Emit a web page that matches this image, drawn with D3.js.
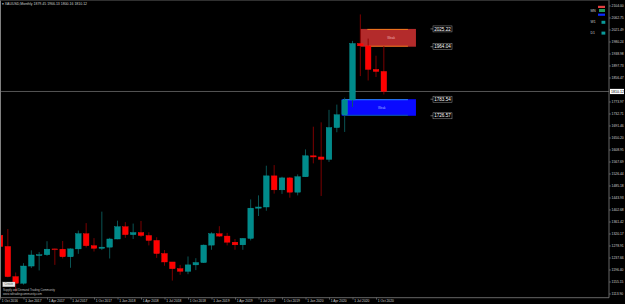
<!DOCTYPE html>
<html>
<head>
<meta charset="utf-8">
<script src="https://cdn.jsdelivr.net/npm/d3@7"></script>
<style>
  html, body { margin: 0; padding: 0; background: #000; }
  svg { display: block; }
  text { font-family: "Liberation Sans", "DejaVu Sans", sans-serif; }
</style>
</head>
<body>
<div id="chart"></div>
<script>
// XAUUSD monthly, Oct 2016 .. Nov 2020
const opens = [1315.6, 1277.3, 1173.6, 1151.0, 1210.0, 1248.0, 1249.0, 1268.9, 1268.0, 1242.0,
  1269.0, 1321.0, 1280.0, 1271.0, 1275.0, 1303.0, 1345.0, 1318.0, 1325.0, 1315.0,
  1298.0, 1253.0, 1224.0, 1201.0, 1192.0, 1214.0, 1222.0, 1282.0, 1321.0, 1313.0,
  1292.0, 1283.0, 1305.0, 1409.0, 1413.0, 1520.0, 1472.0, 1513.0, 1464.0, 1517.0,
  1589.0, 1585.0, 1577.0, 1686.0, 1730.0, 1781.0, 1975.0, 1967.0, 1886.0, 1879.0];
const highs = [1317.9, 1337.4, 1187.8, 1220.0, 1264.0, 1258.0, 1295.4, 1270.0, 1296.0, 1270.7,
  1331.9, 1357.6, 1306.0, 1397.0, 1307.0, 1366.0, 1361.0, 1356.0, 1365.0, 1326.0,
  1309.0, 1265.0, 1224.0, 1214.0, 1243.0, 1237.0, 1284.0, 1326.0, 1347.0, 1324.0,
  1303.0, 1306.0, 1439.0, 1453.0, 1555.0, 1557.0, 1517.0, 1516.0, 1525.0, 1611.0,
  1689.0, 1704.0, 1747.0, 1765.0, 1789.0, 1984.0, 2075.0, 1992.0, 1933.0, 1966.0];
const lows = [1241.5, 1171.3, 1122.9, 1146.0, 1203.0, 1195.0, 1245.0, 1214.0, 1236.0, 1204.0,
  1252.0, 1274.0, 1260.0, 1265.0, 1236.0, 1302.0, 1307.0, 1303.0, 1310.0, 1281.0,
  1238.0, 1211.0, 1160.0, 1180.0, 1182.0, 1196.0, 1221.0, 1266.0, 1310.0, 1281.0,
  1266.0, 1266.0, 1298.0, 1382.0, 1400.0, 1459.0, 1458.0, 1445.0, 1453.0, 1517.0,
  1563.0, 1451.0, 1568.0, 1670.0, 1671.0, 1757.0, 1863.0, 1848.0, 1860.0, 1800.0];
const closes = [1277.3, 1173.6, 1151.0, 1210.0, 1248.0, 1249.0, 1268.0, 1268.3, 1242.0, 1269.0,
  1321.0, 1280.0, 1271.0, 1275.0, 1303.0, 1345.0, 1318.0, 1325.0, 1315.0, 1298.0,
  1253.0, 1224.0, 1201.0, 1192.0, 1214.0, 1222.0, 1282.0, 1321.0, 1313.0, 1292.0,
  1283.0, 1305.0, 1409.0, 1413.0, 1520.0, 1472.0, 1513.0, 1464.0, 1517.0, 1589.0,
  1585.0, 1577.0, 1686.0, 1730.0, 1781.0, 1975.0, 1967.0, 1886.0, 1879.0, 1810.12];

const timeLabels = ["1 Oct 2016", "1 Jan 2017", "1 Apr 2017", "1 Jul 2017", "1 Oct 2017",
  "1 Jan 2018", "1 Apr 2018", "1 Jul 2018", "1 Oct 2018", "1 Jan 2019", "1 Apr 2019",
  "1 Jul 2019", "1 Oct 2019", "1 Jan 2020", "1 Apr 2020", "1 Jul 2020", "1 Oct 2020"];
const timeLabelBars = [0, 3, 6, 9, 12, 15, 18, 21, 24, 27, 30, 33, 36, 39, 42, 45, 48];

const priceTicks = [2104.00, 2062.75, 2021.49, 1980.24, 1938.98, 1897.73, 1856.47,
  1773.97, 1732.71, 1691.46, 1650.20, 1608.95, 1567.69, 1526.44, 1485.18, 1443.93,
  1402.68, 1361.42, 1320.17, 1278.91, 1237.66, 1196.40, 1155.15, 1113.90];

// supply / demand zones: [startBar, endBar, top, bottom]
const zoneNames = ["supply", "demand"];
const zoneStart = [46, 43.62];
const zoneEnd = [53.1, 53.1];
const zoneTop = [2025.22, 1783.54];
const zoneBottom = [1964.04, 1726.57];
const zoneText = ["Weak", "Weak"];

const bidPrice = 1810.12;
const title = "XAUUSD,Monthly  1879.45 1966.13 1800.16 1810.12";

const legendRows = ["MN", "W1", "D1"];

const W = 625, H = 304;
const plotRight = 609, plotBottom = 297.7;

const svg = d3.select("#chart").append("svg")
  .attr("width", W).attr("height", H);

svg.append("rect").attr("width", W).attr("height", H).attr("fill", "#000");

const x = d3.scaleLinear().domain([0, 48]).range([0, 376]);
const y = d3.scaleLinear().domain([1113.9, 2104.0]).range([294, 6]);

const plot = svg.append("g");
plot.append("clipPath").attr("id", "clip")
  .append("rect").attr("x", 0).attr("y", 0).attr("width", plotRight).attr("height", plotBottom);
const g = plot.append("g").attr("clip-path", "url(#clip)");

// zones (behind candles)
const zoneFill = ["#b32b2b", "#0a0aff"];
const zoneEdge = ["#ff8c1a", "#33aaff"];
const zoneTextCol = ["#f2b8b8", "#9fb8ff"];
zoneNames.forEach((name, i) => {
  const x0 = x(zoneStart[i]), x1 = x(zoneEnd[i]);
  const y0 = y(zoneTop[i]), y1 = y(zoneBottom[i]);
  g.append("rect")
    .attr("x", x0).attr("y", y0)
    .attr("width", x1 - x0).attr("height", y1 - y0)
    .attr("fill", zoneFill[i]);
  [y0, y1].forEach((yy, k) => {
    g.append("line")
      .attr("x1", x0 + (i === 0 ? 7 : 1.5)).attr("x2", x1 - 8)
      .attr("y1", yy + (k === 0 ? 0.5 : -0.5)).attr("y2", yy + (k === 0 ? 0.5 : -0.5))
      .attr("stroke", k === 0 ? zoneEdge[i] : (i === 0 ? zoneEdge[i] : "#0b6f8f"))
      .attr("stroke-width", 0.8);
  });
  g.append("text")
    .attr("x", (x0 + x1) / 2 + 3).attr("y", (y0 + y1) / 2 + 1)
    .attr("text-anchor", "middle")
    .attr("font-size", 3)
    .attr("fill", zoneTextCol[i])
    .text(zoneText[i]);
});

// bid line
g.append("line")
  .attr("x1", 0).attr("x2", plotRight)
  .attr("y1", y(bidPrice)).attr("y2", y(bidPrice))
  .attr("stroke", "#7a7a7a").attr("stroke-width", 0.7);

// candles
const bars = d3.range(opens.length);
const bodyW = 5.6;
const candle = g.selectAll(".candle").data(bars).enter().append("g");

candle.append("line")
  .attr("x1", i => x(i)).attr("x2", i => x(i))
  .attr("y1", i => y(highs[i])).attr("y2", i => y(lows[i]))
  .attr("stroke", i => closes[i] >= opens[i] ? "#0b5e5e" : "#8a0000")
  .attr("stroke-width", 0.9);

candle.append("rect")
  .attr("x", i => x(i) - bodyW / 2)
  .attr("y", i => y(Math.max(opens[i], closes[i])))
  .attr("width", bodyW)
  .attr("height", i => Math.max(0.9, Math.abs(y(opens[i]) - y(closes[i]))))
  .attr("fill", i => {
    if (Math.abs(opens[i] - closes[i]) < 2) return closes[i] >= opens[i] ? "#0b6e6e" : "#8a0000";
    return closes[i] >= opens[i] ? "#008b8b" : "#ff0000";
  })
  .attr("stroke", i => closes[i] >= opens[i] ? "#0aa0a0" : "#ff1010")
  .attr("stroke-width", 0.4);

// zone price labels
zoneNames.forEach((name, i) => {
  [zoneTop[i], zoneBottom[i]].forEach(p => {
    const yy = y(p);
    svg.append("line").attr("x1", 430.5).attr("x2", 433)
      .attr("y1", yy).attr("y2", yy).attr("stroke", "#aaa").attr("stroke-width", 0.6);
    svg.append("rect").attr("x", 433).attr("y", yy - 3)
      .attr("width", 19).attr("height", 6)
      .attr("fill", "#000").attr("stroke", "#999").attr("stroke-width", 0.5);
    svg.append("text").attr("x", 442.5).attr("y", yy + 1.6)
      .attr("text-anchor", "middle").attr("font-size", 4.6)
      .attr("fill", "#fff").text(p.toFixed(2));
  });
});

// frame
svg.append("line").attr("x1", 0.5).attr("x2", 0.5).attr("y1", 0).attr("y2", plotBottom)
  .attr("stroke", "#808080").attr("stroke-width", 1);
svg.append("line").attr("x1", plotRight).attr("x2", plotRight).attr("y1", 0).attr("y2", plotBottom)
  .attr("stroke", "#808080").attr("stroke-width", 0.8);
svg.append("line").attr("x1", 0).attr("x2", plotRight).attr("y1", plotBottom).attr("y2", plotBottom)
  .attr("stroke", "#808080").attr("stroke-width", 0.8);
svg.append("line").attr("x1", 0).attr("x2", plotRight).attr("y1", 0.4).attr("y2", 0.4)
  .attr("stroke", "#444").attr("stroke-width", 0.8);

// price axis
const pa = svg.append("g");
priceTicks.forEach(p => {
  const yy = y(p);
  pa.append("line").attr("x1", plotRight).attr("x2", plotRight + 2)
    .attr("y1", yy).attr("y2", yy).attr("stroke", "#999").attr("stroke-width", 0.5);
  pa.append("text").attr("x", plotRight + 2.5).attr("y", yy + 1.2)
    .attr("font-size", 3.4).attr("fill", "#d0d0d0").text(p.toFixed(2));
});
pa.append("rect").attr("x", plotRight + 1).attr("y", y(bidPrice) - 2.6)
  .attr("width", 14).attr("height", 5.2).attr("fill", "#fff");
pa.append("text").attr("x", plotRight + 2).attr("y", y(bidPrice) + 1.3)
  .attr("font-size", 3.6).attr("fill", "#000").text(bidPrice.toFixed(2));

// time axis
const ta = svg.append("g");
timeLabels.forEach((t, k) => {
  const xx = x(timeLabelBars[k]) + 0.5;
  ta.append("line").attr("x1", xx).attr("x2", xx)
    .attr("y1", plotBottom).attr("y2", plotBottom + 2)
    .attr("stroke", "#999").attr("stroke-width", 0.5);
  ta.append("text").attr("x", xx + 1.2).attr("y", plotBottom + 4.2)
    .attr("font-size", 3.3).attr("fill", "#d0d0d0").text(t);
});

// title
svg.append("text").attr("x", 2).attr("y", 4.6)
  .attr("font-size", 3.5).attr("fill", "#cfcfcf")
  .text("\u25BE " + title);

// trend legend top-right
svg.append("rect").attr("x", 598).attr("y", 5.8).attr("width", 7).attr("height", 2.2).attr("fill", "#e04040");
svg.append("rect").attr("x", 598).attr("y", 13.6).attr("width", 7).attr("height", 2.2).attr("fill", "#0a2cff");
legendRows.forEach((lbl, k) => {
  const yy = [11.6, 23.4, 34.2][k];
  svg.append("text").attr("x", 590.5).attr("y", yy)
    .attr("font-size", 3.4).attr("fill", "#cfcfcf").text(lbl);
  svg.append("rect").attr("x", k === 0 ? 599 : 601.5).attr("y", yy - 2.6)
    .attr("width", k === 0 ? 6 : 3.8).attr("height", 3)
    .attr("fill", k === 0 ? "#1f9a5a" : "#0b9a9a");
});

// bottom-left caption
svg.append("rect").attr("x", 2.7).attr("y", 282).attr("width", 12.3).attr("height", 4.8)
  .attr("fill", "#e8e8e8").attr("stroke", "#999").attr("stroke-width", 0.3);
svg.append("text").attr("x", 8.8).attr("y", 285.4).attr("text-anchor", "middle")
  .attr("font-size", 2.9).attr("fill", "#555").text("Create");
svg.append("text").attr("x", 3).attr("y", 290.8)
  .attr("font-size", 2.9).attr("fill", "#bdbdbd").text("Supply and Demand Trading Community");
svg.append("text").attr("x", 3).attr("y", 294.6)
  .attr("font-size", 2.9).attr("fill", "#bdbdbd").text("www.sdtradingcommunity.com");
</script>
</body>
</html>
